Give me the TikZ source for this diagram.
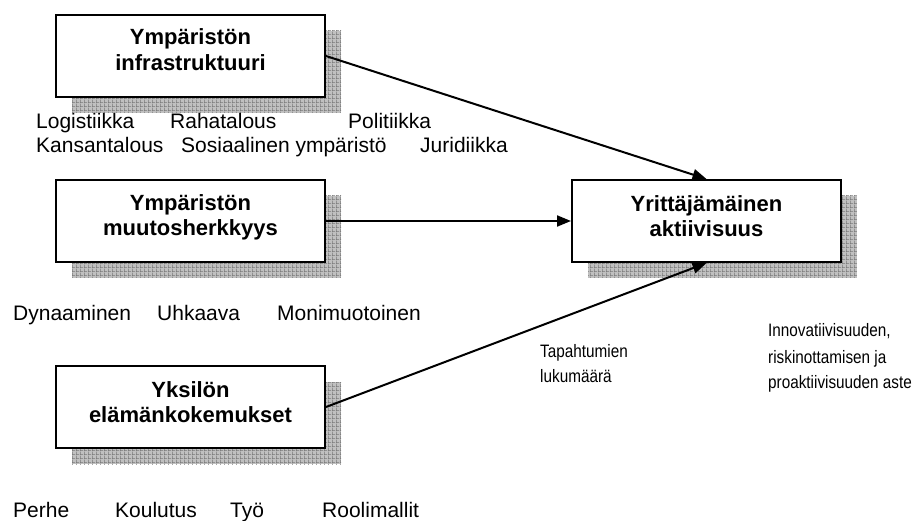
\documentclass[tikz,border=0pt]{standalone}
\usepackage{fontspec}
\setmainfont{Liberation Sans}
\usetikzlibrary{arrows.meta,patterns.meta,calc}

\definecolor{shadowbg}{RGB}{192,192,192}
\definecolor{shadowln}{RGB}{120,120,120}

% fine square grid used inside the box shadows
\tikzdeclarepattern{
  name=shadegrid,
  type=uncolored,
  bounding box={(0pt,0pt) and (3.6pt,3.6pt)},
  tile size={(3.6pt,3.6pt)},
  code={\draw[line width=0.7pt] (0pt,0.35pt) -- (3.6pt,0.35pt) (0.35pt,0pt) -- (0.35pt,3.6pt);}
}

% narrow-set text for the side notes
\newcommand{\narrowtext}[1]{\scalebox{0.85}[1]{#1}}

\tikzset{
  boxst/.style={draw, line width=2pt, fill=white, minimum width=269pt, minimum height=82pt, inner sep=0pt,
    preaction={fill=shadowbg, transform canvas={xshift=16pt,yshift=-16pt}},
    preaction={pattern=shadegrid, pattern color=shadowln, transform canvas={xshift=16pt,yshift=-16pt}}},
  boxtext/.style={anchor=base, inner sep=0pt, font=\fontsize{22}{26}\selectfont\bfseries},
  lbl/.style={anchor=base west, inner sep=0pt, font=\fontsize{21}{25}\selectfont},
  note/.style={anchor=base west, inner sep=0pt, font=\fontsize{18}{22}\selectfont},
  conn/.style={line width=2pt, -{Triangle[length=14pt,width=11pt]}}
}

\begin{document}
\begin{tikzpicture}[x=1pt,y=-1pt]
\useasboundingbox (0,0) rectangle (913,521);

% boxes
\node[boxst] (b1) at (190.5,56) {};
\node[boxst] (b2) at (190.5,221) {};
\node[boxst] (b3) at (190.5,407) {};
\node[boxst] (b4) at (706.5,221) {};

% box titles
\node[boxtext] (t1a) at ($(b1.center)+(0,-11)$) {Ympäristön};
\node[boxtext] (t1b) at ($(b1.center)+(0,15)$) {infrastruktuuri};
\node[boxtext] (t2a) at ($(b2.center)+(0,-10)$) {Ympäristön};
\node[boxtext] (t2b) at ($(b2.center)+(0,15)$) {muutosherkkyys};
\node[boxtext] (t3a) at ($(b3.center)+(0,-10)$) {Yksilön};
\node[boxtext] (t3b) at ($(b3.center)+(0,15)$) {elämänkokemukset};
\node[boxtext] (t4a) at ($(b4.center)+(0,-9)$) {Yrittäjämäinen};
\node[boxtext] (t4b) at ($(b4.center)+(0,16)$) {aktiivisuus};

% connectors
\draw[conn] (b1.east) -- (b4.north);
\draw[conn] (b2.east) -- (b4.west);
\draw[conn] (b3.east) -- (b4.south);

% factor labels
\node[lbl] (l1) at (36,129) {Logistiikka};
\node[lbl] (l2) at (170,129) {Rahatalous};
\node[lbl] (l3) at (348,129) {Politiikka};
\node[lbl] (l4) at (36,153) {Kansantalous};
\node[lbl] (l5) at (181,153) {Sosiaalinen ympäristö};
\node[lbl] (l6) at (420,153) {Juridiikka};

\node[lbl] (m1) at (13,321) {Dynaaminen};
\node[lbl] (m2) at (157,321) {Uhkaava};
\node[lbl] (m3) at (277,321) {Monimuotoinen};

\node[lbl] (p1) at (13,517) {Perhe};
\node[lbl] (p2) at (115,517) {Koulutus};
\node[lbl] (p3) at (230,517) {Työ};
\node[lbl] (p4) at (322,517) {Roolimallit};

% notes
\node[note] (n1a) at (540,357) {\narrowtext{Tapahtumien}};
\node[note] (n1b) at (540,382) {\narrowtext{lukumäärä}};
\node[note] (n2a) at (768,337) {\narrowtext{Innovatiivisuuden,}};
\node[note] (n2b) at (768,363) {\narrowtext{riskinottamisen ja}};
\node[note] (n2c) at (768,388) {\narrowtext{proaktiivisuuden aste}};
\end{tikzpicture}
\end{document}
